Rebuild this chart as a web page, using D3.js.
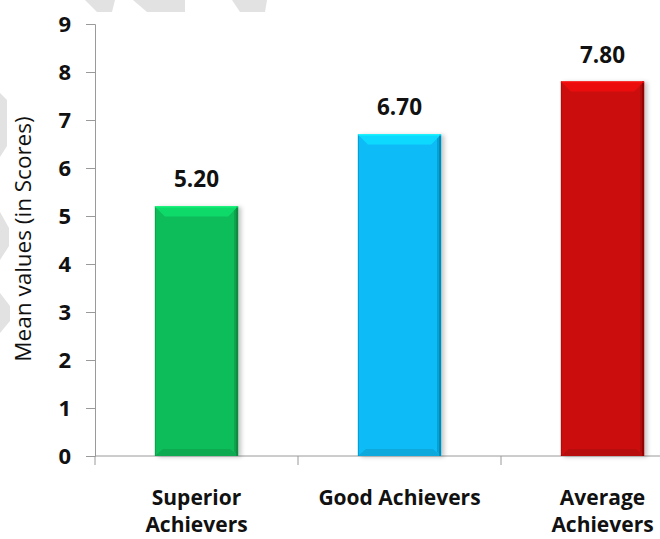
<!DOCTYPE html>
<html>
<head>
<meta charset="utf-8">
<script src="https://cdnjs.cloudflare.com/ajax/libs/d3/7.8.5/d3.min.js"></script>
<style>
  body { margin: 0; background: #fff; }
  text { font-family: "Open Sans", "Noto Sans", sans-serif; fill: #111; }
</style>
</head>
<body>
<div id="chart"></div>
<script>
let categories = ["Superior Achievers", "Good Achievers", "Average Achievers"];
let labelLines = [["Superior", "Achievers"], ["Good Achievers"], ["Average", "Achievers"]];
let values = [5.2, 6.7, 7.8];
let valueLabels = ["5.20", "6.70", "7.80"];
let yTicks = [0, 1, 2, 3, 4, 5, 6, 7, 8, 9];
let barColors = ["#0bbd5a", "#08bcf6", "#cc0909"];

let width = 660, height = 539;
let margin = {top: 24, left: 95, bottom: 83};
let step = 203;

let svg = d3.select("#chart")
    .append("svg")
    .attr("width", width)
    .attr("height", height);

let defs = svg.append("defs");
defs.append("filter")
    .attr("id", "shadow")
    .attr("x", "-20%").attr("width", "140%")
    .append("feDropShadow")
    .attr("dx", 3).attr("dy", 1)
    .attr("stdDeviation", 2)
    .attr("flood-color", "#000")
    .attr("flood-opacity", 0.22);

// watermark fragments
let marks = [
    [[85, 0], [115, 0], [112, 12], [97, 12]],
    [[133, 0], [185, 0], [185, 12], [147, 12]],
    [[232, 0], [267, 0], [265, 12], [240, 12]],
    [[0, 93], [7, 100], [7, 146], [0, 157]],
    [[0, 212], [9, 228], [9, 246], [0, 260]],
    [[0, 293], [10, 306], [10, 321], [0, 333]]
];
svg.selectAll(".wm")
    .data(marks)
    .enter()
    .append("polygon")
    .attr("class", "wm")
    .attr("points", d => d.join(" "))
    .attr("fill", "#e2e2e2");

let x = d3.scaleBand()
    .domain(categories)
    .range([margin.left, margin.left + step * categories.length])
    .paddingInner(0.59)
    .paddingOuter(0.295);

let y = d3.scaleLinear()
    .domain([0, 9])
    .range([height - margin.bottom, margin.top]);

// y axis
let yAxis = svg.append("g")
    .attr("transform", "translate(" + margin.left + ",0)")
    .call(d3.axisLeft(y).tickValues(yTicks).tickSize(9).tickPadding(15).tickSizeOuter(9));
yAxis.select(".domain").attr("stroke", "#9a9a9a");
yAxis.selectAll(".tick line").attr("stroke", "#9a9a9a");
yAxis.selectAll(".tick text")
    .attr("font-size", 22)
    .attr("font-weight", "bold")
    .attr("font-family", "'Open Sans', sans-serif")
    .attr("fill", "#111");

// x axis, ticks sit on band boundaries
let x0 = y(0);
svg.append("line")
    .attr("x1", margin.left).attr("x2", width)
    .attr("y1", x0).attr("y2", x0)
    .attr("stroke", "#9a9a9a");
svg.selectAll(".xtick")
    .data(d3.range(categories.length + 1))
    .enter()
    .append("line")
    .attr("class", "xtick")
    .attr("x1", i => margin.left + i * x.step())
    .attr("x2", i => margin.left + i * x.step())
    .attr("y1", x0).attr("y2", x0 + 9)
    .attr("stroke", "#9a9a9a");

// bars with bevel
let bars = svg.selectAll(".bar")
    .data(values)
    .enter()
    .append("g")
    .attr("class", "bar")
    .attr("filter", "url(#shadow)");

bars.each(function (v, i) {
    let g = d3.select(this);
    let c = d3.color(barColors[i]);
    let bx0 = x(categories[i]), bx1 = bx0 + x.bandwidth();
    let by0 = y(v), by1 = y(0);
    let b = 10;
    g.append("rect")
        .attr("x", bx0).attr("y", by0)
        .attr("width", x.bandwidth()).attr("height", by1 - by0)
        .attr("fill", c);
    g.append("polygon")
        .attr("points", [[bx0, by0], [bx1, by0], [bx1 - b, by0 + b], [bx0 + b, by0 + b]].join(" "))
        .attr("fill", c.brighter(0.4));
    g.append("polygon")
        .attr("points", [[bx1, by0], [bx1 - 4, by0 + 4], [bx1 - 4, by1 - 4], [bx1, by1]].join(" "))
        .attr("fill", c.darker(0.45));
    g.append("polygon")
        .attr("points", [[bx0, by1], [bx0 + 8, by1 - 7], [bx1 - 8, by1 - 7], [bx1, by1]].join(" "))
        .attr("fill", c.darker(0.3));
    g.append("line")
        .attr("x1", bx0 + 0.5).attr("x2", bx0 + 0.5)
        .attr("y1", by0).attr("y2", by1)
        .attr("stroke", c.darker(0.9)).attr("stroke-opacity", 0.6);
    g.append("line")
        .attr("x1", bx1 - 1).attr("x2", bx1 - 1)
        .attr("y1", by0).attr("y2", by1)
        .attr("stroke", c.darker(1.1)).attr("stroke-width", 2).attr("stroke-opacity", 0.7);
    g.append("line")
        .attr("x1", bx0).attr("x2", bx1)
        .attr("y1", by0 + 0.5).attr("y2", by0 + 0.5)
        .attr("stroke", c.brighter(0.9));
});

// value labels
svg.selectAll(".val")
    .data(values)
    .enter()
    .append("text")
    .attr("class", "val")
    .attr("x", (d, i) => x(categories[i]) + x.bandwidth() / 2)
    .attr("y", d => y(d) - 19)
    .attr("text-anchor", "middle")
    .attr("font-size", 22.5)
    .attr("font-weight", "bold")
    .text((d, i) => valueLabels[i]);

// category labels
let cat = svg.selectAll(".cat")
    .data(labelLines)
    .enter()
    .append("text")
    .attr("class", "cat")
    .attr("text-anchor", "middle")
    .attr("font-size", 21)
    .attr("font-weight", "bold");
cat.selectAll("tspan")
    .data((d, i) => d.map(s => ({s: s, i: i})))
    .enter()
    .append("tspan")
    .attr("x", d => x(categories[d.i]) + x.bandwidth() / 2)
    .attr("y", (d, j) => 505 + j * 27)
    .text(d => d.s);

svg.append("text")
    .attr("transform", "translate(31,239) rotate(-90)")
    .attr("text-anchor", "middle")
    .attr("font-size", 22.5)
    .text("Mean values (in Scores)");
</script>
</body>
</html>
